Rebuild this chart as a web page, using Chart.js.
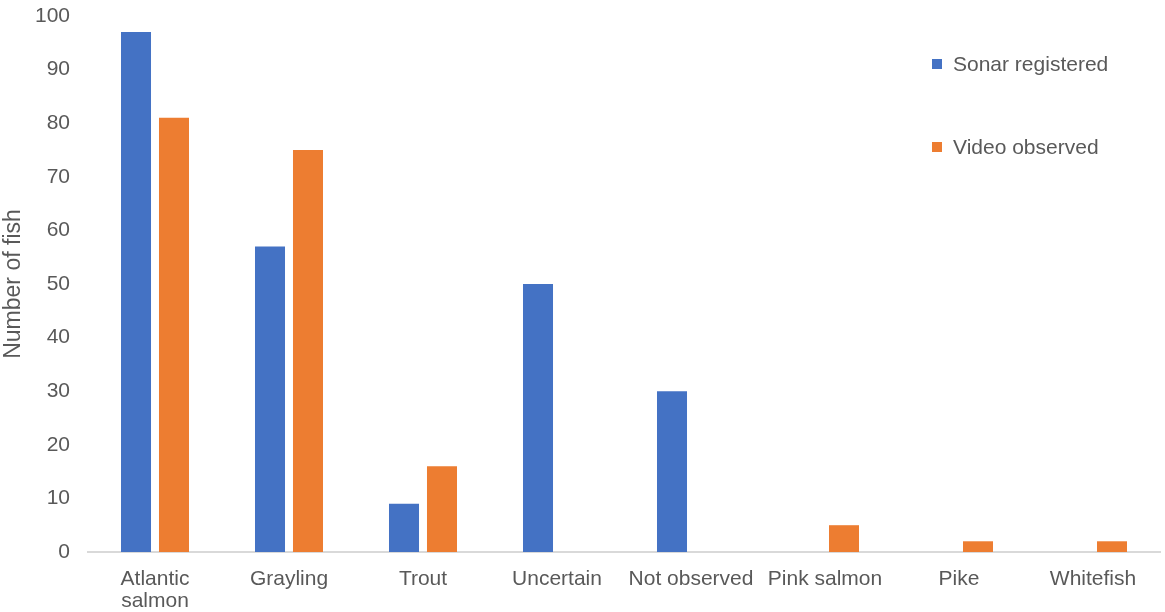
<!DOCTYPE html>
<html>
<head>
<meta charset="utf-8">
<script src="https://cdn.jsdelivr.net/npm/chart.js@4.4.1/dist/chart.umd.min.js"></script>
<style>
  html, body { margin: 0; padding: 0; background: #fff; }
  #wrap { position: relative; width: 1165px; height: 612px; }
  .legend { position: absolute; left: 932px; font: 21px "Liberation Sans", Arial, sans-serif; color: #595959; line-height: 24px; }
  .legend span.box { display: inline-block; width: 10px; height: 10px; margin-right: 11px; vertical-align: 2px; }
</style>
</head>
<body>
<div id="wrap">
  <canvas id="fishChart" width="1165" height="612"></canvas>
  <div class="legend" style="top:52px"><span class="box" style="background:#4472C4"></span>Sonar registered</div>
  <div class="legend" style="top:135px"><span class="box" style="background:#ED7D31"></span>Video observed</div>
</div>
<script>
// categories and values
const species = [["Atlantic", "salmon"], "Grayling", "Trout", "Uncertain", "Not observed", "Pink salmon", "Pike", "Whitefish"];
const sonarRegistered = [97, 57, 9, 50, 30, 0, 0, 0];
const videoObserved = [81, 75, 16, 0, 0, 5, 2, 2];
const yTicks = [0, 10, 20, 30, 40, 50, 60, 70, 80, 90, 100];

const fontFamily = "'Liberation Sans', Arial, sans-serif";

const ctx = document.getElementById("fishChart").getContext("2d");
new Chart(ctx, {
    type: "bar",
    data: {
        labels: species,
        datasets: [
            { label: "Sonar registered", data: sonarRegistered, backgroundColor: "#4472C4" },
            { label: "Video observed", data: videoObserved, backgroundColor: "#ED7D31" }
        ]
    },
    options: {
        responsive: false,
        animation: false,
        categoryPercentage: 0.567,
        barPercentage: 0.79,
        layout: { padding: { top: 0, right: 5, left: 0, bottom: 0 } },
        plugins: {
            legend: { display: false },
            tooltip: { enabled: false }
        },
        scales: {
            x: {
                // fixed height so the baseline sits where the reference has it
                afterFit: (axis) => { axis.height = 60; },
                grid: { display: false, drawTicks: false },
                border: { color: "#d9d9d9", width: 2 },
                ticks: {
                    color: "#595959",
                    font: { family: fontFamily, size: 21, lineHeight: 1.05 },
                    padding: 16,
                    maxRotation: 0,
                    autoSkip: false
                }
            },
            y: {
                min: 0,
                max: 100,
                afterBuildTicks: (axis) => { axis.ticks = yTicks.map(v => ({ value: v })); },
                // fixed axis width so the plot starts where the reference does
                afterFit: (axis) => {
                    axis.width = 88;
                    axis.paddingTop = 16;
                    axis.paddingBottom = 0;
                },
                grid: { display: false, drawTicks: false },
                border: { display: false },
                ticks: {
                    color: "#595959",
                    font: { family: fontFamily, size: 21 },
                    padding: 18
                },
                title: {
                    display: true,
                    text: "Number of fish",
                    color: "#595959",
                    font: { family: fontFamily, size: 23 },
                    padding: { top: 0, bottom: 7 }
                }
            }
        }
    }
});
</script>
</body>
</html>
